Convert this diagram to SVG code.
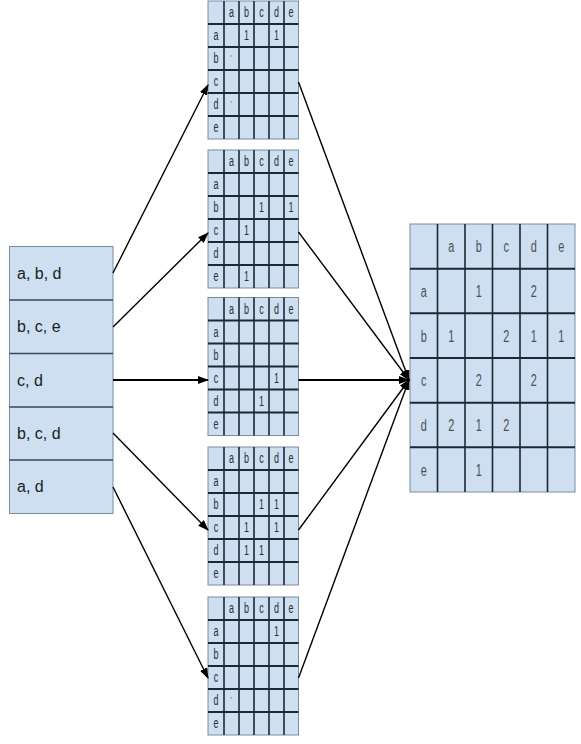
<svg xmlns="http://www.w3.org/2000/svg" width="581" height="744" viewBox="0 0 581 744">
<defs>
<marker id="ah" markerUnits="userSpaceOnUse" markerWidth="11" markerHeight="8" refX="10" refY="4" orient="auto">
<path d="M0,0 L11,4 L0,8 z" fill="#000"/>
</marker>
<style>
.bg{fill:#cddff1;stroke:#7b8c9c;stroke-width:1}
.gl{stroke:#1e2833;stroke-width:2;fill:none}
.gv{stroke:#1e2833;stroke-width:1.6;fill:none}
.st{font-family:"Liberation Sans",Arial,sans-serif;font-size:14.5px;fill:#2a2f35;text-anchor:middle;transform-box:fill-box;transform-origin:center;transform:scaleX(.62)}
.bt{font-family:"Liberation Sans",Arial,sans-serif;font-size:16px;fill:#4a4f55;text-anchor:middle;transform-box:fill-box;transform-origin:center;transform:scaleX(.68)}
.lt{font-family:"Liberation Sans",Arial,sans-serif;font-size:16px;fill:#1a1d22}
.cn{stroke:#000;stroke-width:1.4;fill:none;marker-end:url(#ah)}
</style>
</defs>

<g id="list">
<rect class="bg" x="9.5" y="246.5" width="103.5" height="267"/>
<path class="gl" d="M9.5,300H113M9.5,353.5H113M9.5,407H113M9.5,460H113" style="stroke:#3b4752;stroke-width:1.6"/>
<text class="lt" x="17" y="279">a, b, d</text>
<text class="lt" x="17" y="332">b, c, e</text>
<text class="lt" x="17" y="386">c, d</text>
<text class="lt" x="17" y="439">b, c, d</text>
<text class="lt" x="17" y="492">a, d</text>
</g>

<g id="m1">
<rect class="bg" x="208" y="1" width="90.5" height="138"/>
<path class="gl" d="M208,24H298.5M208,47H298.5M208,70H298.5M208,93H298.5M208,116H298.5"/>
<path class="gv" d="M224,1V139M239,1V139M254,1V139M269,1V139M284,1V139"/>
<text class="st" x="231.5" y="17.5">a</text><text class="st" x="246.5" y="17.5">b</text><text class="st" x="261.5" y="17.5">c</text><text class="st" x="276.5" y="17.5">d</text><text class="st" x="291" y="17.5">e</text>
<text class="st" x="216" y="40.5">a</text><text class="st" x="216" y="63.5">b</text><text class="st" x="216" y="86.5">c</text><text class="st" x="216" y="109.5">d</text><text class="st" x="216" y="132.5">e</text>
<text class="st" x="246.5" y="40.5">1</text><text class="st" x="276.5" y="40.5">1</text>
<text class="st" x="231" y="61" style="font-size:9px">'</text>
<text class="st" x="231" y="107" style="font-size:9px">'</text>
</g>

<g id="m2">
<rect class="bg" x="208" y="150" width="90.5" height="138"/>
<path class="gl" d="M208,173H298.5M208,196H298.5M208,219H298.5M208,242H298.5M208,265H298.5"/>
<path class="gv" d="M224,150V288M239,150V288M254,150V288M269,150V288M284,150V288"/>
<text class="st" x="231.5" y="166.5">a</text><text class="st" x="246.5" y="166.5">b</text><text class="st" x="261.5" y="166.5">c</text><text class="st" x="276.5" y="166.5">d</text><text class="st" x="291" y="166.5">e</text>
<text class="st" x="216" y="189.5">a</text><text class="st" x="216" y="212.5">b</text><text class="st" x="216" y="235.5">c</text><text class="st" x="216" y="258.5">d</text><text class="st" x="216" y="281.5">e</text>
<text class="st" x="261.5" y="212.5">1</text><text class="st" x="291" y="212.5">1</text>
<text class="st" x="246.5" y="235.5">1</text>
<text class="st" x="246.5" y="281.5">1</text>
</g>

<g id="m3">
<rect class="bg" x="208" y="297.5" width="90.5" height="138"/>
<path class="gl" d="M208,320.5H298.5M208,343.5H298.5M208,366.5H298.5M208,389.5H298.5M208,412.5H298.5"/>
<path class="gv" d="M224,297.5V435.5M239,297.5V435.5M254,297.5V435.5M269,297.5V435.5M284,297.5V435.5"/>
<text class="st" x="231.5" y="314">a</text><text class="st" x="246.5" y="314">b</text><text class="st" x="261.5" y="314">c</text><text class="st" x="276.5" y="314">d</text><text class="st" x="291" y="314">e</text>
<text class="st" x="216" y="337">a</text><text class="st" x="216" y="360">b</text><text class="st" x="216" y="383">c</text><text class="st" x="216" y="406">d</text><text class="st" x="216" y="429">e</text>
<text class="st" x="276.5" y="383">1</text>
<text class="st" x="261.5" y="406">1</text>
</g>

<g id="m4">
<rect class="bg" x="208" y="447" width="90.5" height="138"/>
<path class="gl" d="M208,470H298.5M208,493H298.5M208,516H298.5M208,539H298.5M208,562H298.5"/>
<path class="gv" d="M224,447V585M239,447V585M254,447V585M269,447V585M284,447V585"/>
<text class="st" x="231.5" y="463.5">a</text><text class="st" x="246.5" y="463.5">b</text><text class="st" x="261.5" y="463.5">c</text><text class="st" x="276.5" y="463.5">d</text><text class="st" x="291" y="463.5">e</text>
<text class="st" x="216" y="486.5">a</text><text class="st" x="216" y="509.5">b</text><text class="st" x="216" y="532.5">c</text><text class="st" x="216" y="555.5">d</text><text class="st" x="216" y="578.5">e</text>
<text class="st" x="261.5" y="509.5">1</text><text class="st" x="276.5" y="509.5">1</text>
<text class="st" x="246.5" y="532.5">1</text><text class="st" x="276.5" y="532.5">1</text>
<text class="st" x="246.5" y="555.5">1</text><text class="st" x="261.5" y="555.5">1</text>
</g>

<g id="m5">
<rect class="bg" x="208" y="597" width="90.5" height="138"/>
<path class="gl" d="M208,620H298.5M208,643H298.5M208,666H298.5M208,689H298.5M208,712H298.5"/>
<path class="gv" d="M224,597V735M239,597V735M254,597V735M269,597V735M284,597V735"/>
<text class="st" x="231.5" y="613.5">a</text><text class="st" x="246.5" y="613.5">b</text><text class="st" x="261.5" y="613.5">c</text><text class="st" x="276.5" y="613.5">d</text><text class="st" x="291" y="613.5">e</text>
<text class="st" x="216" y="636.5">a</text><text class="st" x="216" y="659.5">b</text><text class="st" x="216" y="682.5">c</text><text class="st" x="216" y="705.5">d</text><text class="st" x="216" y="728.5">e</text>
<text class="st" x="276.5" y="636.5">1</text>
<text class="st" x="231" y="703" style="font-size:9px">'</text>
</g>

<g id="result">
<rect class="bg" x="410" y="224" width="165" height="268"/>
<path class="gl" d="M410,268.7H575M410,313.3H575M410,358H575M410,402.7H575M410,447.3H575"/>
<path class="gv" d="M437.5,224V492M465,224V492M492.5,224V492M520,224V492M547.5,224V492"/>
<text class="bt" x="451.25" y="252">a</text><text class="bt" x="478.75" y="252">b</text><text class="bt" x="506.25" y="252">c</text><text class="bt" x="533.75" y="252">d</text><text class="bt" x="561.25" y="252">e</text>
<text class="bt" x="423.75" y="297">a</text><text class="bt" x="423.75" y="342">b</text><text class="bt" x="423.75" y="386">c</text><text class="bt" x="423.75" y="431">d</text><text class="bt" x="423.75" y="476">e</text>
<text class="bt" x="478.75" y="297">1</text><text class="bt" x="533.75" y="297">2</text>
<text class="bt" x="451.25" y="342">1</text><text class="bt" x="506.25" y="342">2</text><text class="bt" x="533.75" y="342">1</text><text class="bt" x="561.25" y="342">1</text>
<text class="bt" x="478.75" y="386">2</text><text class="bt" x="533.75" y="386">2</text>
<text class="bt" x="451.25" y="431">2</text><text class="bt" x="478.75" y="431">1</text><text class="bt" x="506.25" y="431">2</text>
<text class="bt" x="478.75" y="476">1</text>
</g>

<g id="connectors">
<line class="cn" x1="113" y1="273" x2="208" y2="85"/>
<line class="cn" x1="113" y1="327" x2="208" y2="233"/>
<line class="cn" x1="113" y1="380" x2="208" y2="380" style="stroke-width:2"/>
<line class="cn" x1="113" y1="433" x2="208" y2="530"/>
<line class="cn" x1="113" y1="487" x2="208" y2="678"/>
<line class="cn" x1="298.5" y1="82" x2="409" y2="380"/>
<line class="cn" x1="298.5" y1="232" x2="409" y2="380"/>
<line class="cn" x1="298.5" y1="380" x2="409" y2="380" style="stroke-width:2"/>
<line class="cn" x1="298.5" y1="530" x2="409" y2="380"/>
<line class="cn" x1="298.5" y1="678" x2="409" y2="380"/>
</g>
</svg>
